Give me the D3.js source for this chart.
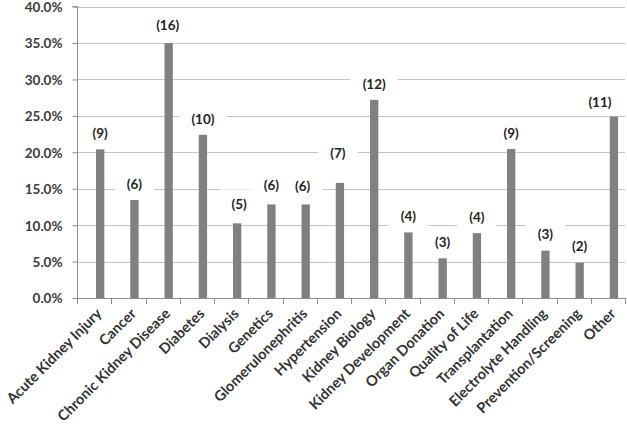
<!DOCTYPE html>
<html>
<head>
<meta charset="utf-8">
<script src="https://cdn.jsdelivr.net/npm/d3@7"></script>
<style>
  html, body { margin: 0; padding: 0; background: #fff; }
  svg { display: block; font-family: Lato, "Open Sans", sans-serif; }
</style>
</head>
<body>
<svg id="chart" width="627" height="430"></svg>
<script>
const categories = ["Acute Kidney Injury", "Cancer", "Chronic Kidney Disease", "Diabetes", "Dialysis",
  "Genetics", "Glomerulonephritis", "Hypertension", "Kidney Biology", "Kidney Development",
  "Organ Donation", "Quality of Life", "Transplantation", "Electrolyte Handling",
  "Prevention/Screening", "Other"];
const percentages = [0.204, 0.1345, 0.350, 0.224, 0.1025, 0.1285, 0.1285, 0.158, 0.272, 0.090,
  0.0545, 0.089, 0.2045, 0.065, 0.0485, 0.249];
const counts = [9, 6, 16, 10, 5, 6, 6, 7, 12, 4, 3, 4, 9, 3, 2, 11];
const yTicks = [0, 0.05, 0.10, 0.15, 0.20, 0.25, 0.30, 0.35, 0.40];

// layout tweaks for hand-placed count labels (not data)
const labelNudge = { "Hypertension": { dx: -2, dy: -14 }, "Other": { dx: -14, dy: 2 },
  "Dialysis": { dx: 2, dy: -3 }, "Genetics": { dx: 0, dy: -3 }, "Glomerulonephritis": { dx: -3, dy: -2 },
  "Chronic Kidney Disease": { dx: -1, dy: -2 } };

const svg = d3.select("#chart");
const mLeft = 77, mRight = 625, mTop = 6.6, mBottom = 298;

const x = d3.scaleBand().domain(categories).range([mLeft, mRight]).padding(0);
const y = d3.scaleLinear().domain([0, 0.40]).range([mBottom, mTop]);
const bw = x.bandwidth();
const barX = d => x(d) + bw * 0.555;
const barW = bw * 0.243;
const barC = d => barX(d) + barW / 2;

// gridlines
svg.append("g").selectAll("line").data(yTicks.filter(t => t > 0)).join("line")
  .attr("x1", mLeft).attr("x2", mRight)
  .attr("y1", d => Math.round(y(d)) + 0.5).attr("y2", d => Math.round(y(d)) + 0.5)
  .attr("stroke", "#c4c4c4").attr("stroke-width", 1);

// y axis
const yAxis = d3.axisLeft(y).tickValues(yTicks).tickFormat(d3.format(".1%")).tickSize(5).tickPadding(10);
const gy = svg.append("g").attr("transform", `translate(${mLeft + 0.5},0)`).call(yAxis);
gy.select(".domain").attr("stroke", "#8c8c8c").attr("d", `M-5,${mTop}H0V${mBottom}`);
gy.selectAll(".tick line").attr("stroke", "#8c8c8c");
gy.selectAll(".tick text").attr("fill", "#3b3b3b").attr("font-size", "13.5px").attr("font-weight", "bold")
  .attr("font-family", "Lato, sans-serif").attr("dy", "0.36em");

// bars
svg.append("g").selectAll("rect").data(categories).join("rect")
  .attr("x", d => barX(d)).attr("width", barW)
  .attr("y", (d, i) => y(percentages[i])).attr("height", (d, i) => mBottom - y(percentages[i]))
  .attr("fill", "#808080");

// x axis line + ticks at band boundaries
const gx = svg.append("g");
gx.append("line").attr("x1", mLeft).attr("x2", mRight).attr("y1", mBottom + 0.5).attr("y2", mBottom + 0.5)
  .attr("stroke", "#8c8c8c");
const bounds = categories.map(d => x(d)).concat([mRight]);
gx.selectAll("line.t").data(bounds).join("line").attr("class", "t")
  .attr("x1", d => Math.round(d) + 0.5).attr("x2", d => Math.round(d) + 0.5)
  .attr("y1", mBottom).attr("y2", mBottom + 6).attr("stroke", "#8c8c8c");

// x labels
gx.selectAll("text").data(categories).join("text")
  .attr("transform", d => `translate(${barC(d) - 1},${mBottom + 13}) rotate(-45)`)
  .attr("text-anchor", "end").attr("dy", "0.35em")
  .attr("font-size", "14.5px").attr("font-weight", "bold").attr("fill", "#333")
  .attr("font-family", "Lato, sans-serif")
  .text(d => d);

// count labels with white boxes
const lg = svg.append("g").selectAll("g").data(categories).join("g")
  .attr("transform", (d, i) => {
    const n = labelNudge[d] || { dx: 0, dy: 0 };
    return `translate(${barC(d) + n.dx},${y(percentages[i]) - 16 + n.dy})`;
  });
lg.append("rect").attr("fill", "#fff");
lg.append("text").attr("text-anchor", "middle").attr("dy", "0.35em")
  .attr("font-size", "13.5px").attr("font-weight", "bold").attr("fill", "#222")
  .attr("font-family", "Lato, sans-serif")
  .text((d, i) => `(${counts[i]})`);
lg.each(function () {
  const g = d3.select(this);
  const w = g.select("text").node().getComputedTextLength();
  g.select("rect").attr("x", -w / 2 - 12).attr("width", w + 24).attr("y", -15).attr("height", 27);
});
</script>
</body>
</html>
